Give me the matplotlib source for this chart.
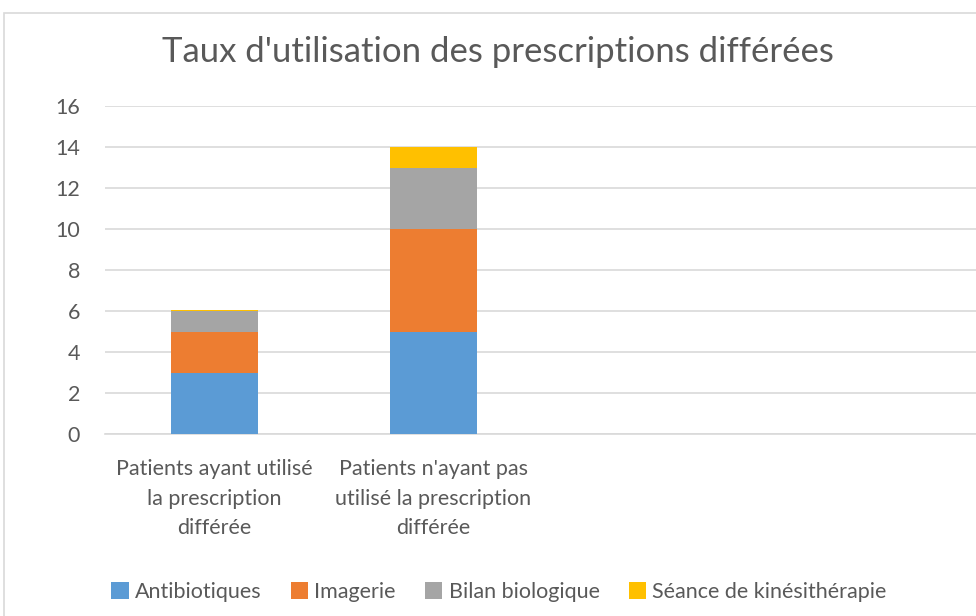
import matplotlib.pyplot as plt
from matplotlib.patches import Rectangle
import numpy as np

plt.rcParams['font.family'] = ['Lato', 'DejaVu Sans']

categories = ["Patients ayant utilisé\nla prescription\ndifférée",
              "Patients n'ayant pas\nutilisé la prescription\ndifférée"]
series = ["Antibiotiques", "Imagerie", "Bilan biologique", "Séance de kinésithérapie"]
antibiotiques = [3, 5]
imagerie = [2, 5]
bilan = [1, 3]
kine = [0.05, 1]
colors = ["#5B9BD5", "#ED7D31", "#A5A5A5", "#FFC000"]
n_slots = 4  # axis leaves room for 4 categories, the picture is cropped on the right

fig = plt.figure(figsize=(9.76, 6.16), dpi=100)
ax = fig.add_axes([105 / 976, 182 / 616, 876 / 976, 328 / 616])

x = np.arange(len(categories))
bottom = np.zeros(len(categories))
for name, vals, c in zip(series, [antibiotiques, imagerie, bilan, kine], colors):
    ax.bar(x, vals, 0.40, bottom=bottom, color=c, label=name, zorder=3)
    bottom += np.array(vals)

ax.set_xlim(-0.5, n_slots - 0.5)
ax.set_ylim(0, 16)
ax.set_yticks(range(0, 17, 2))
ax.grid(axis='y', color='#D9D9D9', linewidth=1.2, zorder=0)
for s in ['top', 'right', 'left']:
    ax.spines[s].set_visible(False)
ax.spines['bottom'].set_color('#D9D9D9')
ax.spines['bottom'].set_linewidth(1.2)
ax.set_xticks(x)
ax.set_xticklabels(categories, fontsize=15.5, color='#595959', linespacing=1.6)
ax.tick_params(axis='both', length=0, colors='#595959', labelsize=15.5)
ax.tick_params(axis='x', pad=18)
ax.tick_params(axis='y', pad=18)

fig.text(498 / 976, 1 - 52 / 616, "Taux d'utilisation des prescriptions différées",
         ha='center', va='center', fontsize=25, color='#595959')

ax.legend(loc='center', bbox_to_anchor=(499 / 976, 1 - 592 / 616), bbox_transform=fig.transFigure,
          ncol=4, frameon=False, fontsize=15.5, labelcolor='#595959', handlelength=0.8,
          handleheight=0.8, handletextpad=0.3, columnspacing=1.35)

fig.patches.append(Rectangle((4 / 976, -0.1), 1.2, 1 - 13 / 616 + 0.1, transform=fig.transFigure,
                             fill=False, edgecolor='#D9D9D9', linewidth=1.2))

fig.savefig('out.png', dpi=100, facecolor='white')
